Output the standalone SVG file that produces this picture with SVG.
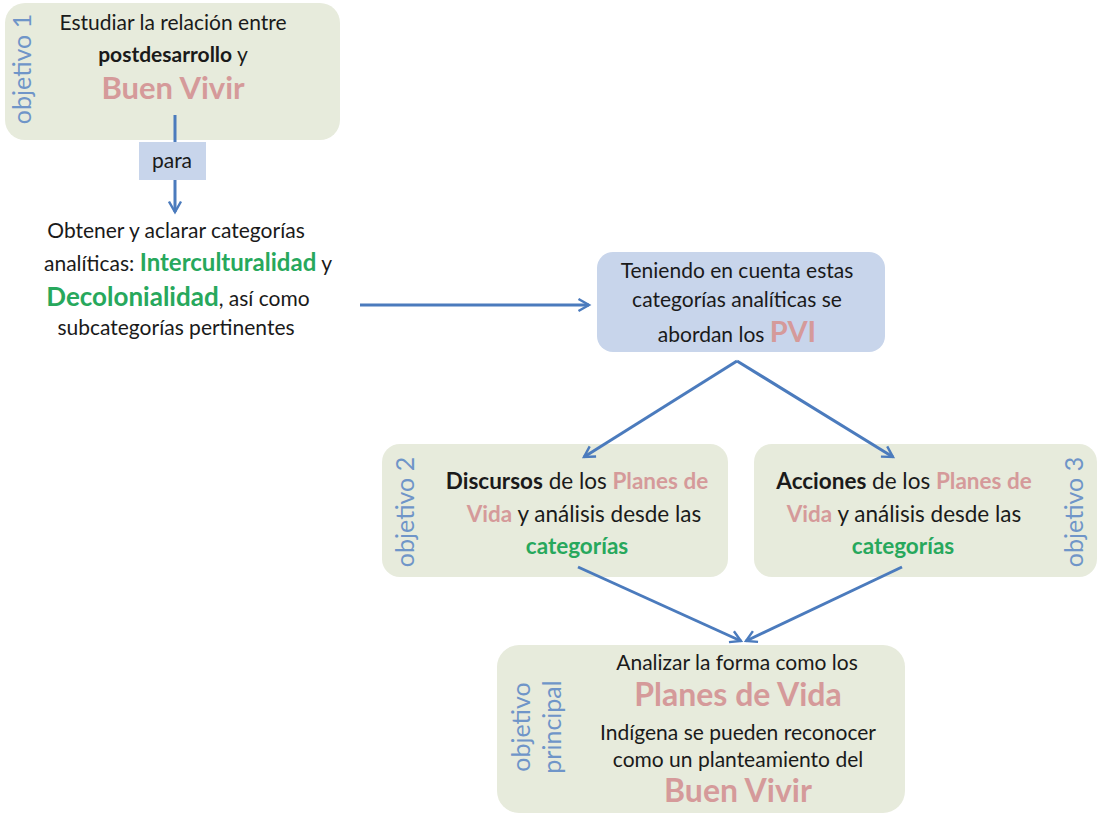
<svg xmlns="http://www.w3.org/2000/svg" width="1097" height="815" viewBox="0 0 1097 815">
<style>
text{font-family:Lato,"Open Sans","Liberation Sans",sans-serif;fill:#1a1a1a}
.box{fill:#e7ebdc}
.blue{fill:#c8d5eb}
.lbl{fill:#6f95c8;font-size:25px}
.t{font-size:21px}
.t2{font-size:22.5px}
.b{font-weight:bold}
.pk{fill:#d59a9a;font-weight:bold}
.gr{fill:#27a85c;font-weight:bold}
.c{stroke:#4b7bbd;stroke-width:3;fill:none}
</style>
<defs>
<marker id="ah" viewBox="0 0 10 10" refX="8" refY="5" markerWidth="5" markerHeight="5" orient="auto" markerUnits="strokeWidth">
<path d="M1,1 L8,5 L1,9" fill="none" stroke="#4b7bbd" stroke-width="1.6"/>
</marker>
</defs>
<rect width="1097" height="815" fill="#fff"/>
<g id="obj1">
<rect class="box" x="5" y="3" width="335" height="137" rx="20"/>
<text class="lbl" transform="translate(31,69) rotate(-90)" text-anchor="middle">objetivo 1</text>
<text class="t" x="173" y="30" text-anchor="middle">Estudiar la relación entre</text>
<text class="t" x="173" y="62" text-anchor="middle"><tspan class="b">postdesarrollo</tspan>  y</text>
<text x="173" y="99" text-anchor="middle" class="pk" font-size="31">Buen Vivir</text>
</g>
<g id="para">
<rect class="blue" x="139" y="142" width="67" height="38"/>
<text class="t" x="172" y="168" text-anchor="middle">para</text>
</g>
<g id="categorias">
<text class="t" x="176" y="238" text-anchor="middle">Obtener y aclarar categorías</text>
<text class="t" x="188" y="271" text-anchor="middle">analíticas: <tspan class="gr" font-size="24">Interculturalidad</tspan> y</text>
<text class="t" x="178" y="306" text-anchor="middle"><tspan class="gr" font-size="26">Decolonialidad</tspan>, así como</text>
<text class="t" x="176" y="335" text-anchor="middle">subcategorías pertinentes</text>
</g>
<g id="pvi">
<rect class="blue" x="597" y="252" width="288" height="100" rx="16"/>
<text class="t" x="737" y="278" text-anchor="middle">Teniendo en cuenta estas</text>
<text class="t" x="737" y="307" text-anchor="middle">categorías analíticas se</text>
<text class="t" x="737" y="342" text-anchor="middle">abordan los <tspan class="pk" font-size="29">PVI</tspan></text>
</g>
<g id="obj2">
<rect class="box" x="382" y="444" width="346" height="133" rx="18"/>
<text class="lbl" transform="translate(414,512) rotate(-90)" text-anchor="middle">objetivo 2</text>
<text class="t2" x="577" y="489" text-anchor="middle"><tspan class="b">Discursos</tspan>  de los <tspan class="pk">Planes de</tspan></text>
<text class="t2" x="584" y="522" text-anchor="middle"><tspan class="pk">Vida</tspan> y análisis desde las</text>
<text class="t2" x="577" y="554" text-anchor="middle"><tspan class="gr">categorías</tspan></text>
</g>
<g id="obj3">
<rect class="box" x="754" y="444" width="343" height="133" rx="18"/>
<text class="lbl" transform="translate(1083,512) rotate(-90)" text-anchor="middle">objetivo 3</text>
<text class="t2" x="904" y="489" text-anchor="middle"><tspan class="b">Acciones</tspan> de los <tspan class="pk">Planes de</tspan></text>
<text class="t2" x="904" y="522" text-anchor="middle"><tspan class="pk">Vida</tspan>  y análisis desde las</text>
<text class="t2" x="903" y="554" text-anchor="middle"><tspan class="gr">categorías</tspan></text>
</g>
<g id="principal">
<rect class="box" x="497" y="645" width="408" height="168" rx="22"/>
<text class="lbl" transform="translate(530,727) rotate(-90)" text-anchor="middle">objetivo</text>
<text class="lbl" transform="translate(561,727) rotate(-90)" text-anchor="middle">principal</text>
<text class="t" x="737" y="670" text-anchor="middle">Analizar la forma como los</text>
<text x="738" y="706" text-anchor="middle" class="pk" font-size="32">Planes de Vida</text>
<text class="t" x="738" y="740" text-anchor="middle">Indígena se pueden reconocer</text>
<text class="t" x="738" y="767" text-anchor="middle">como un planteamiento del</text>
<text x="738" y="802" text-anchor="middle" class="pk" font-size="32">Buen Vivir</text>
</g>
<g id="connectors">
<line class="c" x1="175" y1="115" x2="175" y2="142"/>
<line class="c" x1="175" y1="180" x2="175" y2="212" marker-end="url(#ah)"/>
<line class="c" x1="360" y1="305" x2="589" y2="305" marker-end="url(#ah)"/>
<line class="c" x1="737" y1="361" x2="584" y2="457" marker-end="url(#ah)"/>
<line class="c" x1="737" y1="361" x2="893" y2="457" marker-end="url(#ah)"/>
<line class="c" x1="578" y1="567" x2="741" y2="641" marker-end="url(#ah)"/>
<line class="c" x1="902" y1="567" x2="746" y2="641" marker-end="url(#ah)"/>
</g>
</svg>
